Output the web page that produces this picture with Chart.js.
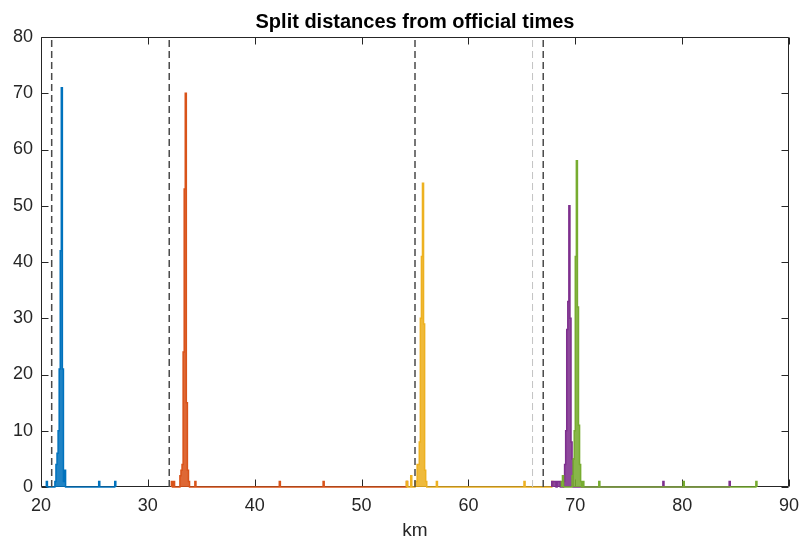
<!DOCTYPE html>
<html>
<head>
<meta charset="utf-8">
<script src="https://cdn.jsdelivr.net/npm/chart.js@4.4.1/dist/chart.umd.min.js"></script>
<style>
html,body{margin:0;padding:0;background:#fff;}
#wrap{width:800px;height:543px;position:relative;}
</style>
</head>
<body>
<div id="wrap"><canvas id="c"></canvas></div>
<script>
// ---- data ----
const titleText = 'Split distances from official times';
const xLabel = 'km';
const xTicks = [20, 30, 40, 50, 60, 70, 80, 90];
const yTicks = [0, 10, 20, 30, 40, 50, 60, 70, 80];
const binWidth = 0.1; // km

const blueEdges   = [20.5, 21.3, 21.4, 21.5, 21.6, 21.7, 21.8, 21.9, 22.0, 22.1, 22.2, 25.4, 26.9];
const blueCounts  = [1, 1, 4, 6, 10, 21, 42, 71, 21, 1, 3, 1, 1];

const orangeEdges  = [32.2, 32.4, 33.0, 33.1, 33.2, 33.3, 33.4, 33.5, 33.6, 33.7, 33.8, 34.4, 42.3, 46.4, 54.2];
const orangeCounts = [1, 1, 2, 3, 4, 24, 53, 70, 15, 3, 1, 1, 1, 1, 1];

const yellowEdges  = [54.2, 54.6, 55.0, 55.1, 55.2, 55.3, 55.4, 55.5, 55.6, 55.7, 55.8, 55.9, 56.0, 57.0, 65.2, 67.8];
const yellowCounts = [1, 2, 1, 1, 4, 4, 8, 30, 41, 54, 29, 3, 1, 1, 1, 1];

const purpleEdges  = [67.8, 67.9, 68.0, 68.1, 68.3, 68.4, 68.5, 68.9, 69.0, 69.1, 69.2, 69.3, 69.4, 69.5, 69.6, 69.7, 78.2, 84.4];
const purpleCounts = [1, 1, 1, 1, 1, 1, 1, 1, 4, 10, 28, 33, 50, 30, 8, 5, 1, 1];

const greenEdges  = [68.7, 68.8, 69.7, 69.8, 69.9, 70.0, 70.1, 70.2, 70.3, 70.4, 70.5, 70.7, 72.2, 80.1, 86.9];
const greenCounts = [1, 2, 2, 5, 10, 41, 58, 32, 11, 4, 1, 1, 1, 1, 1];

const refLines = [21, 32, 55, 67];     // dark dashed
const refLinesLight = [66];            // light dashed

// ---- styles ----
const FONT = "'Liberation Sans', Arial, Helvetica, sans-serif";
const AXIS = '#262626';
const COLORS = {
  blue: '#0072BD', orange: '#D95319', yellow: '#EDB120', purple: '#7E2F8E', green: '#77AC30'
};
function rgba(hex, a) {
  const n = parseInt(hex.slice(1), 16);
  return `rgba(${(n>>16)&255},${(n>>8)&255},${n&255},${a})`;
}

function histPoints(edges, counts) {
  const pts = [{x: edges[0], y: 0}];
  for (let i = 0; i < edges.length; i++) {
    pts.push({x: edges[i], y: counts[i]});
    const end = +(edges[i] + binWidth).toFixed(6);
    if (i === edges.length - 1 || Math.abs(edges[i + 1] - end) > 1e-6) pts.push({x: end, y: 0});
  }
  return pts;
}
function histDataset(edges, counts, color, order) {
  return {
    data: histPoints(edges, counts),
    stepped: 'before',
    borderColor: color,
    borderWidth: 1.5,
    backgroundColor: rgba(color, 0.88),
    fill: 'origin',
    pointRadius: 0,
    tension: 0,
    clip: false,
    order: order
  };
}
function vline(v, color, width) {
  return {
    data: [{x: v, y: yTicks[0]}, {x: v, y: yTicks[yTicks.length - 1]}],
    borderColor: color, borderWidth: width, borderDash: [7, 4],
    pointRadius: 0, fill: false, order: 0, clip: false
  };
}

const datasets = [
  histDataset(blueEdges, blueCounts, COLORS.blue, 5),
  histDataset(orangeEdges, orangeCounts, COLORS.orange, 4),
  histDataset(yellowEdges, yellowCounts, COLORS.yellow, 3),
  histDataset(purpleEdges, purpleCounts, COLORS.purple, 2),
  histDataset(greenEdges, greenCounts, COLORS.green, 1),
  ...refLinesLight.map(v => vline(v, '#c4c4c4', 1)),
  ...refLines.map(v => vline(v, '#4a4a4a', 1.5))
];

const boxPlugin = {
  id: 'matlabBox',
  beforeDatasetsDraw(chart) {
    const {ctx, chartArea: a, scales: {x, y}} = chart;
    const L = Math.round(a.left) + 0.5, R = Math.round(a.right) - 0.5;
    const T = Math.round(a.top) + 0.5, B = Math.round(a.bottom) - 0.5;
    const tl = 7;
    ctx.save();
    ctx.strokeStyle = AXIS;
    ctx.lineWidth = 1;
    ctx.beginPath();
    ctx.rect(L, T, R - L, B - T);
    xTicks.forEach(v => {
      const px = Math.round(x.getPixelForValue(v)) + 0.5;
      ctx.moveTo(px, B); ctx.lineTo(px, B - tl);
      ctx.moveTo(px, T); ctx.lineTo(px, T + tl);
    });
    yTicks.forEach(v => {
      const py = Math.round(y.getPixelForValue(v)) + 0.5;
      ctx.moveTo(L, py); ctx.lineTo(L + tl, py);
      ctx.moveTo(R, py); ctx.lineTo(R - tl, py);
    });
    ctx.stroke();
    ctx.restore();
  }
};

new Chart(document.getElementById('c'), {
  type: 'line',
  data: {datasets},
  plugins: [boxPlugin],
  options: {
    animation: false,
    responsive: true,
    maintainAspectRatio: false,
    devicePixelRatio: 1,
    layout: {padding: {left: 0, right: 11, top: 0, bottom: 0}},
    plugins: {
      legend: {display: false},
      tooltip: {enabled: false},
      title: {
        display: true, text: titleText, fullSize: false, color: '#000',
        font: {family: FONT, size: 20, weight: 'bold', lineHeight: 1.2},
        padding: {top: 10, bottom: 3}
      }
    },
    scales: {
      x: {
        type: 'linear',
        min: xTicks[0], max: xTicks[xTicks.length - 1],
        afterBuildTicks: s => { s.ticks = xTicks.map(v => ({value: v})); },
        afterFit: s => { s.height = 56; s.paddingLeft = 0; s.paddingRight = 0; },
        grid: {display: false, drawTicks: false},
        border: {display: false},
        ticks: {color: AXIS, font: {family: FONT, size: 18}, padding: 8, maxRotation: 0, autoSkip: false},
        title: {display: true, text: xLabel, color: AXIS, font: {family: FONT, size: 19}, padding: {top: 0, bottom: 1}}
      },
      y: {
        type: 'linear',
        min: yTicks[0], max: yTicks[yTicks.length - 1],
        afterBuildTicks: s => { s.ticks = yTicks.map(v => ({value: v})); },
        afterFit: s => { s.width = 41; s.paddingTop = 0; s.paddingBottom = 0; },
        grid: {display: false, drawTicks: false},
        border: {display: false},
        ticks: {color: AXIS, font: {family: FONT, size: 18}, padding: 8, autoSkip: false}
      }
    }
  }
});
</script>
</body>
</html>
